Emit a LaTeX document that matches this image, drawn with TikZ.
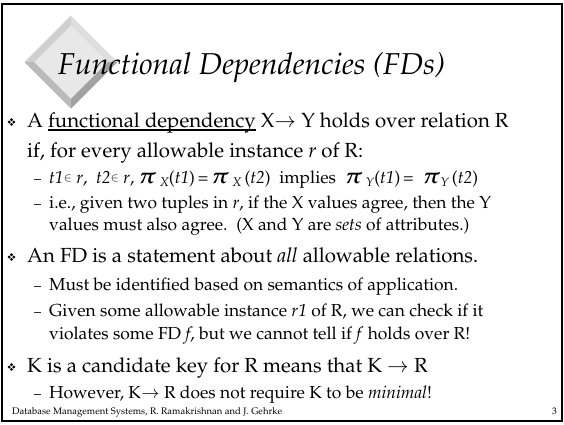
\documentclass[tikz,border=0pt]{standalone}
\usepackage[T1]{fontenc}
\usepackage{mathpazo}
\usepackage{bm}
% underline drawn as a rule of chosen depth and thickness
\newcommand\undl[1]{\setbox0\hbox{#1}\rlap{\rule[-3.6pt]{\wd0}{1.3pt}}\box0\relax}
\newcommand\fdpi{{\fontsize{22}{22}\selectfont$\bm{\pi}$}}
\newcommand\fdsub[1]{\raisebox{-3pt}{\fontsize{12.5}{12.5}\selectfont\textit{#1}}}
\newcommand\fdin{\raisebox{2pt}{\fontsize{11.5}{11.5}\selectfont$\in$}}
\definecolor{faceG}{HTML}{E8E8E8}
\definecolor{bevTL}{HTML}{D0D0D0}
\definecolor{bevTR}{HTML}{DEDEDE}
\definecolor{bevBL}{HTML}{BABABA}
\definecolor{bevBR}{HTML}{A2A2A2}
\tikzset{
  lvlA/.style={anchor=base west, inner sep=0pt, font=\fontsize{20.4}{24}\selectfont},
  lvlB/.style={anchor=base west, inner sep=0pt, font=\fontsize{17.4}{21}\selectfont},
  dashmark/.style={anchor=base west, inner sep=0pt, font=\fontsize{14}{16}\selectfont},
  titletext/.style={anchor=base west, inner sep=0pt, font=\fontsize{30.2}{34}\selectfont\itshape},
  foot/.style={anchor=base west, inner sep=0pt, font=\fontsize{9.5}{11}\selectfont},
  fdbullet/.pic={
    \fill (0,-3.8) -- (3.8,0) -- (0,3.8) -- (-3.8,0) -- cycle;
    \draw[white, line width=0.7pt] (-2.2,-2.2) -- (2.2,2.2) (-2.2,2.2) -- (2.2,-2.2);
  }
}
\begin{document}
\begin{tikzpicture}[x=1pt, y=-1pt]
\useasboundingbox (0,0) rectangle (564,424);
\fill[white] (0,0) rectangle (564,424);
% slide frame
\draw[line width=2pt] (2,3.5) rectangle (562,421);

% bevelled diamond behind the title
\coordinate (dT) at (71,15.5);
\coordinate (dR) at (117.5,62);
\coordinate (dB) at (71,108.5);
\coordinate (dL) at (24.5,62);
\coordinate (iT) at (71,25.5);
\coordinate (iR) at (107.5,62);
\coordinate (iB) at (71,98.5);
\coordinate (iL) at (34.5,62);
\fill[bevTL] (dL) -- (dT) -- (iT) -- (iL) -- cycle;
\fill[bevTR] (dT) -- (dR) -- (iR) -- (iT) -- cycle;
\fill[bevBR] (dR) -- (dB) -- (iB) -- (iR) -- cycle;
\fill[bevBL] (dB) -- (dL) -- (iL) -- (iB) -- cycle;
\fill[faceG] (iT) -- (iR) -- (iB) -- (iL) -- cycle;

\node[titletext] (title) at (58,74) {Functional Dependencies (FDs)};

% first point
\pic at (11.5,122) {fdbullet};
\node[lvlA] (l1) at (27,127) {A \undl{functional dependency} X$\rightarrow$ Y holds over relation R};
\node[lvlA] (l2) at (27,157) {if, for every allowable instance \textit{r} of R:};
\node[dashmark] (d3) at (34,183) {--};
\node[lvlB] (l3) at (49,183) {\textit{t1}\fdin\ \textit{r},\ \ \textit{t2}\fdin\ \textit{r}, \fdpi\,\fdsub{X}(\textit{t1})\,=\,\fdpi\,\fdsub{X}\,(\textit{t2})\ \ implies\ \ \fdpi\,\fdsub{Y}(\textit{t1})\,=\ \ \fdpi\fdsub{Y}\,(\textit{t2})};
\node[dashmark] (d4) at (34,208) {--};
\node[lvlB] (l4) at (49,208) {i.e., given two tuples in \textit{r}, if the X values agree, then the Y};
\node[lvlB] (l5) at (49,230) {values must also agree.\ \ (X and Y are \textit{sets} of attributes.)};

% second point
\pic at (11.5,257) {fdbullet};
\node[lvlA] (l6) at (27,262) {An FD is a statement about \textit{all} allowable relations.};
\node[dashmark] (d7) at (34,290) {--};
\node[lvlB] (l7) at (49,290) {Must be identified based on semantics of application.};
\node[dashmark] (d8) at (34,316) {--};
\node[lvlB] (l8) at (49,316) {Given some allowable instance \textit{r1} of R, we can check if it};
\node[lvlB] (l9) at (49,339) {violates some FD \textit{f}, but we cannot tell if \textit{f} holds over R!};

% third point
\pic at (11.5,367) {fdbullet};
\node[lvlA] (l10) at (27,372) {K is a candidate key for R means that K $\rightarrow$ R};
\node[dashmark] (d11) at (34,398) {--};
\node[lvlB] (l11) at (49,398) {However, K$\rightarrow$ R does not require K to be \textit{minimal}!};

% footer
\node[foot] (ft) at (12,414) {Database Management Systems, R. Ramakrishnan and J. Gehrke};
\node[foot, anchor=base east] (pg) at (557,414) {3};
\end{tikzpicture}
\end{document}
